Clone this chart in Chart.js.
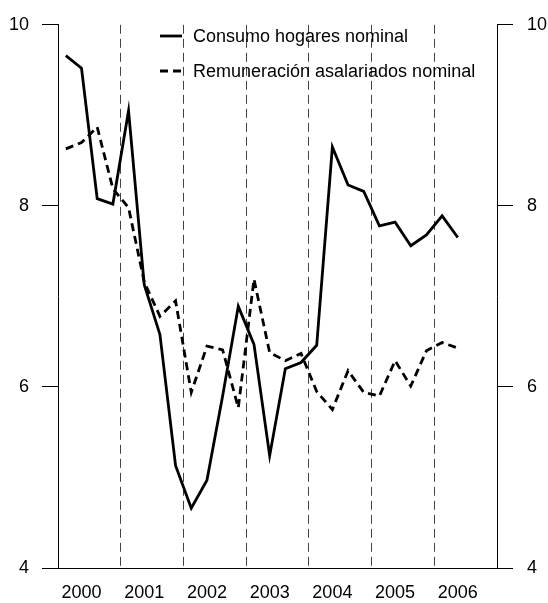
<!DOCTYPE html>
<html>
<head>
<meta charset="utf-8">
<script src="https://cdn.jsdelivr.net/npm/chart.js@4.4.1/dist/chart.umd.min.js"></script>
<style>
  body { margin: 0; background: #fff; }
  canvas { display: block; }
</style>
</head>
<body>
<canvas id="chart" width="548" height="603"></canvas>
<script>
// Years shown on the x axis, data is quarterly
var years = ['2000', '2001', '2002', '2003', '2004', '2005', '2006'];
var quarters = [];
years.forEach(function (y) {
    for (var q = 1; q <= 4; q++) quarters.push(y + 'Q' + q);
});

// Series (last two quarters of 2006 missing)
var consumo = [9.66, 9.52, 8.08, 8.02, 9.05, 7.13, 6.58, 5.13,
               4.66, 4.97, 5.90, 6.89, 6.47, 5.24, 6.20, 6.27,
               6.46, 8.65, 8.23, 8.16, 7.78, 7.82, 7.56, 7.68,
               7.89, 7.65, null, null];
var remuneracion = [8.63, 8.70, 8.87, 8.19, 7.98, 7.16, 6.78, 6.95,
                    5.94, 6.45, 6.41, 5.77, 7.19, 6.38, 6.29, 6.37,
                    5.95, 5.75, 6.18, 5.94, 5.90, 6.29, 6.01, 6.40,
                    6.49, 6.43, null, null];

var seriesNames = ['Consumo hogares nominal', 'Remuneración asalariados nominal'];
var yTicks = [4, 6, 8, 10];

var FONT = '"Liberation Sans", Arial, Helvetica, sans-serif';

// Legend stacked inside the plot, drawn by hand
var legendPlugin = {
    id: 'innerLegend',
    afterDatasetsDraw: function (chart) {
        var ctx = chart.ctx;
        var rows = [
            { y: 36, dash: [] },
            { y: 71, dash: [8, 5] }
        ];
        ctx.save();
        ctx.font = '18px ' + FONT;
        ctx.textBaseline = 'middle';
        ctx.fillStyle = '#000';
        rows.forEach(function (r, i) {
            ctx.beginPath();
            ctx.setLineDash(r.dash);
            ctx.lineWidth = 2.8;
            ctx.strokeStyle = '#000';
            ctx.moveTo(160, r.y);
            ctx.lineTo(182, r.y);
            ctx.stroke();
            ctx.fillText(seriesNames[i], 193, r.y + 1);
        });
        ctx.restore();
    }
};

var yAxis = function (pos) {
    return {
        position: pos,
        min: 4,
        max: 10,
        afterBuildTicks: function (axis) {
            axis.ticks = yTicks.map(function (v) { return { value: v }; });
        },
        afterFit: function (axis) {
            axis.width = pos === 'left' ? 49 : 50;
        },
        ticks: {
            color: '#000',
            padding: pos === 'left' ? 13 : 14,
            font: { family: FONT, size: 18 }
        },
        grid: {
            drawOnChartArea: pos === 'left',
            color: function (c) { return c.tick && c.tick.value === 4 ? '#000' : 'rgba(0,0,0,0)'; },
            tickColor: '#000',
            tickLength: 16,
            lineWidth: 1
        },
        border: { display: true, color: '#000', width: 1 }
    };
};

new Chart(document.getElementById('chart').getContext('2d'), {
    type: 'line',
    data: {
        labels: quarters,
        datasets: [
            {
                label: seriesNames[0],
                data: consumo,
                borderColor: '#000',
                borderWidth: 2.8,
                pointRadius: 0,
                tension: 0,
                yAxisID: 'y'
            },
            {
                label: seriesNames[1],
                data: remuneracion,
                borderColor: '#000',
                borderWidth: 2.8,
                borderDash: [8, 5],
                pointRadius: 0,
                tension: 0,
                yAxisID: 'y'
            }
        ]
    },
    options: {
        responsive: false,
        animation: false,
        layout: { padding: { top: 22, left: 9, right: 1, bottom: 0 } },
        plugins: {
            legend: { display: false },
            tooltip: { enabled: false }
        },
        scales: {
            x: {
                type: 'category',
                offset: true,
                afterFit: function (axis) { axis.height = 35; },
                ticks: {
                    autoSkip: false,
                    maxRotation: 0,
                    padding: 14,
                    color: '#000',
                    font: { family: FONT, size: 18 },
                    callback: function (val, i) {
                        // year label sits under the second quarter
                        return i % 4 === 1 ? years[Math.floor(i / 4)] : '';
                    }
                },
                grid: {
                    offset: true,
                    drawTicks: false,
                    lineWidth: 1,
                    color: function (c) {
                        return (c.index > 0 && c.index < quarters.length && c.index % 4 === 0) ? '#444' : 'rgba(0,0,0,0)';
                    }
                },
                border: { display: false, dash: [9, 5] }
            },
            y: yAxis('left'),
            y2: yAxis('right')
        }
    },
    plugins: [legendPlugin]
});
</script>
</body>
</html>
